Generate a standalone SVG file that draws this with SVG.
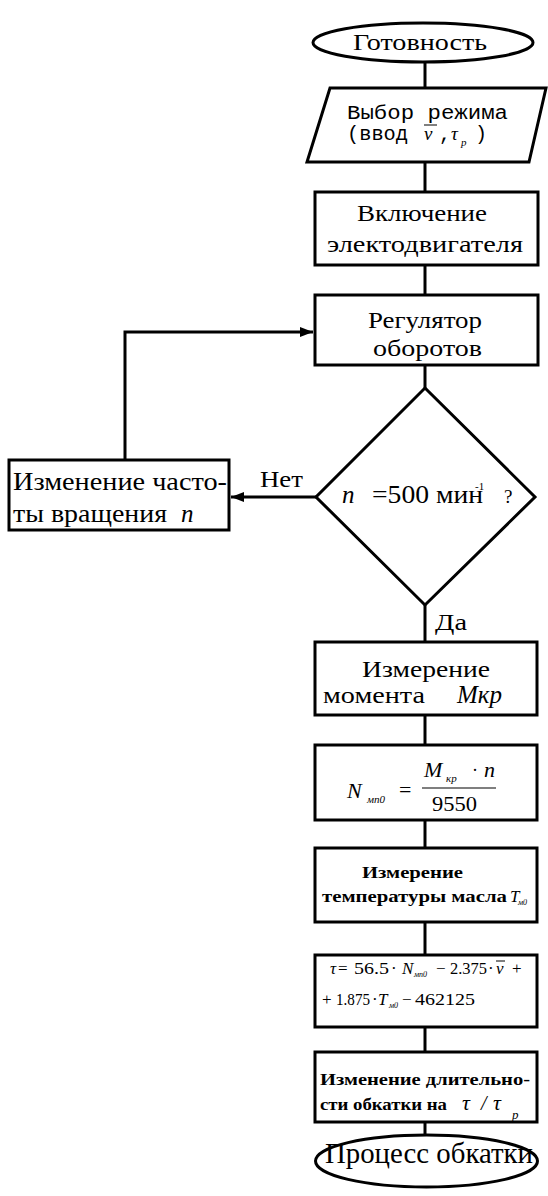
<svg xmlns="http://www.w3.org/2000/svg" width="548" height="1196" viewBox="0 0 548 1196">
  <style>
    .shape { fill: #fff; stroke: #000; stroke-width: 3; }
    .wire { fill: none; stroke: #000; stroke-width: 3; }
    .t { font-family: "Liberation Serif", "Times New Roman", serif; fill: #000; }
    .m { font-family: "Liberation Mono", "Courier New", monospace; fill: #000; }
    .i { font-style: italic; }
    .b { font-weight: bold; }
  </style>
  <defs>
    <marker id="arrow" markerUnits="userSpaceOnUse" markerWidth="14" markerHeight="12" refX="13" refY="6" orient="auto">
      <path d="M0,1 L13,6 L0,11 Z" fill="#000"/>
    </marker>
  </defs>

  <g id="connectors">
    <line class="wire" x1="425" y1="62" x2="425" y2="88"/>
    <line class="wire" x1="425" y1="162" x2="425" y2="192"/>
    <line class="wire" x1="425" y1="265" x2="425" y2="295"/>
    <line class="wire" x1="425" y1="365" x2="425" y2="388"/>
    <line class="wire" x1="316" y1="497" x2="231" y2="497" marker-end="url(#arrow)"/>
    <polyline class="wire" points="125,460 125,332 313,332" marker-end="url(#arrow)"/>
    <line class="wire" x1="425" y1="605" x2="425" y2="642"/>
    <line class="wire" x1="425" y1="715" x2="425" y2="745"/>
    <line class="wire" x1="425" y1="820" x2="425" y2="848"/>
    <line class="wire" x1="425" y1="922" x2="425" y2="955"/>
    <line class="wire" x1="425" y1="1027" x2="425" y2="1052"/>
    <line class="wire" x1="425" y1="1122" x2="425" y2="1135"/>
    <text class="t" x="260" y="487" font-size="24" textLength="43" lengthAdjust="spacingAndGlyphs">Нет</text>
    <text class="t" x="435" y="630" font-size="24" textLength="32" lengthAdjust="spacingAndGlyphs">Да</text>
  </g>

  <g id="start">
    <ellipse class="shape" cx="423" cy="42.5" rx="110" ry="19.5"/>
    <text class="t" x="353" y="50" font-size="24" textLength="134" lengthAdjust="spacingAndGlyphs">Готовность</text>
  </g>

  <g id="mode-input">
    <polygon class="shape" points="330,88 546,88 529,162 307,162"/>
    <text class="m" x="347" y="119" font-size="20" textLength="161" lengthAdjust="spacingAndGlyphs">Выбор режима</text>
    <text class="m" x="347" y="140" font-size="20" textLength="61" lengthAdjust="spacingAndGlyphs">(ввод</text>
    <text class="t i" x="424" y="140" font-size="19">ν</text>
    <line x1="424" y1="125" x2="437" y2="125" stroke="#000" stroke-width="1"/>
    <text class="m" x="439" y="140" font-size="20">,</text>
    <text class="t i" x="451" y="140" font-size="19">τ</text>
    <text class="t i" x="461" y="146" font-size="11">p</text>
    <text class="m" x="475" y="140" font-size="20">)</text>
  </g>

  <g id="motor-on">
    <rect class="shape" x="315" y="192" width="223" height="73"/>
    <text class="t" x="357" y="221" font-size="23" textLength="130" lengthAdjust="spacingAndGlyphs">Включение</text>
    <text class="t" x="327" y="252" font-size="23" textLength="196" lengthAdjust="spacingAndGlyphs">электодвигателя</text>
  </g>

  <g id="speed-regulator">
    <rect class="shape" x="315" y="295" width="223" height="70"/>
    <text class="t" x="368" y="328" font-size="23" textLength="114" lengthAdjust="spacingAndGlyphs">Регулятор</text>
    <text class="t" x="373" y="356" font-size="23" textLength="109" lengthAdjust="spacingAndGlyphs">оборотов</text>
  </g>

  <g id="speed-check">
    <polygon class="shape" points="425,388 535,497 425,605 316,497"/>
    <text class="t i" x="342" y="503" font-size="25">n</text>
    <text class="t" x="372" y="503" font-size="25" textLength="111" lengthAdjust="spacingAndGlyphs">=500 мин</text>
    <text class="t" x="475" y="490" font-size="11">-1</text>
    <text class="t" x="504" y="503" font-size="19" fill="#555">?</text>
  </g>

  <g id="speed-change">
    <rect class="shape" x="9" y="460" width="220" height="70"/>
    <text class="t" x="13" y="490" font-size="25" textLength="214" lengthAdjust="spacingAndGlyphs">Изменение часто-</text>
    <text class="t" x="13" y="522" font-size="25" textLength="154" lengthAdjust="spacingAndGlyphs">ты вращения</text>
    <text class="t i" x="181" y="522" font-size="25">n</text>
  </g>

  <g id="torque-measure">
    <rect class="shape" x="315" y="642" width="222" height="73"/>
    <text class="t" x="362" y="677" font-size="23" textLength="128" lengthAdjust="spacingAndGlyphs">Измерение</text>
    <text class="t" x="323" y="703" font-size="23" textLength="102" lengthAdjust="spacingAndGlyphs">момента</text>
    <text class="t i" x="457" y="703" font-size="25">Мкр</text>
  </g>

  <g id="power-formula">
    <rect class="shape" x="315" y="745" width="222" height="75"/>
    <text class="t i" x="347" y="798" font-size="22">N</text>
    <text class="t i" x="367" y="803" font-size="11">мп0</text>
    <text class="t" x="399" y="797" font-size="22">=</text>
    <text class="t i" x="424" y="777" font-size="22">M</text>
    <text class="t i" x="446" y="782" font-size="11">кр</text>
    <text class="t" x="472" y="776" font-size="18">·</text>
    <text class="t i" x="484" y="777" font-size="22">n</text>
    <line x1="422" y1="788" x2="496" y2="788" stroke="#000" stroke-width="1.2"/>
    <text class="t" x="432" y="811" font-size="22" textLength="45" lengthAdjust="spacingAndGlyphs">9550</text>
  </g>

  <g id="oil-temperature">
    <rect class="shape" x="315" y="848" width="222" height="74"/>
    <text class="t b" x="362" y="878" font-size="17" textLength="101" lengthAdjust="spacingAndGlyphs">Измерение</text>
    <text class="t b" x="322" y="902" font-size="17" textLength="185" lengthAdjust="spacingAndGlyphs">температуры масла</text>
    <text class="t i" x="510" y="902" font-size="17">T</text>
    <text class="t i" x="518" y="905" font-size="8">м0</text>
  </g>

  <g id="duration-formula">
    <rect class="shape" x="315" y="955" width="222" height="72"/>
    <text class="t i" x="330" y="974" font-size="17">τ</text>
    <text class="t" x="338" y="974" font-size="17">=</text>
    <text class="t" x="354" y="974" font-size="17" textLength="35" lengthAdjust="spacingAndGlyphs">56.5</text>
    <text class="t" x="391" y="974" font-size="17">·</text>
    <text class="t i" x="402" y="974" font-size="17">N</text>
    <text class="t i" x="414" y="977" font-size="8">мп0</text>
    <text class="t" x="436" y="974" font-size="17">−</text>
    <text class="t" x="450" y="974" font-size="17" textLength="37" lengthAdjust="spacingAndGlyphs">2.375</text>
    <text class="t" x="488" y="974" font-size="17">·</text>
    <text class="t i" x="496" y="974" font-size="17">ν</text>
    <line x1="496" y1="961" x2="505" y2="961" stroke="#000" stroke-width="1"/>
    <text class="t" x="512" y="974" font-size="17">+</text>
    <text class="t" x="322" y="1005" font-size="17">+</text>
    <text class="t" x="336" y="1005" font-size="17" textLength="34" lengthAdjust="spacingAndGlyphs">1.875</text>
    <text class="t" x="372" y="1005" font-size="17">·</text>
    <text class="t i" x="378" y="1005" font-size="17">T</text>
    <text class="t i" x="389" y="1008" font-size="8">м0</text>
    <text class="t" x="402" y="1005" font-size="17">−</text>
    <text class="t" x="415" y="1005" font-size="17" textLength="60" lengthAdjust="spacingAndGlyphs">462125</text>
  </g>

  <g id="duration-change">
    <rect class="shape" x="315" y="1052" width="222" height="70"/>
    <text class="t b" x="320" y="1085" font-size="17" textLength="210" lengthAdjust="spacingAndGlyphs">Изменение длительно-</text>
    <text class="t b" x="320" y="1110" font-size="16" textLength="127" lengthAdjust="spacingAndGlyphs">сти  обкатки на</text>
    <text class="t i" x="462" y="1110" font-size="22">τ</text>
    <text class="t i" x="481" y="1110" font-size="20">/</text>
    <text class="t i" x="493" y="1110" font-size="22">τ</text>
    <text class="t i" x="512" y="1119" font-size="13">p</text>
  </g>

  <g id="finish">
    <ellipse class="shape" cx="426.5" cy="1161" rx="111" ry="26"/>
    <text class="t" x="325" y="1163" font-size="29" textLength="208" lengthAdjust="spacingAndGlyphs">Процесс обкатки</text>
  </g>
</svg>
